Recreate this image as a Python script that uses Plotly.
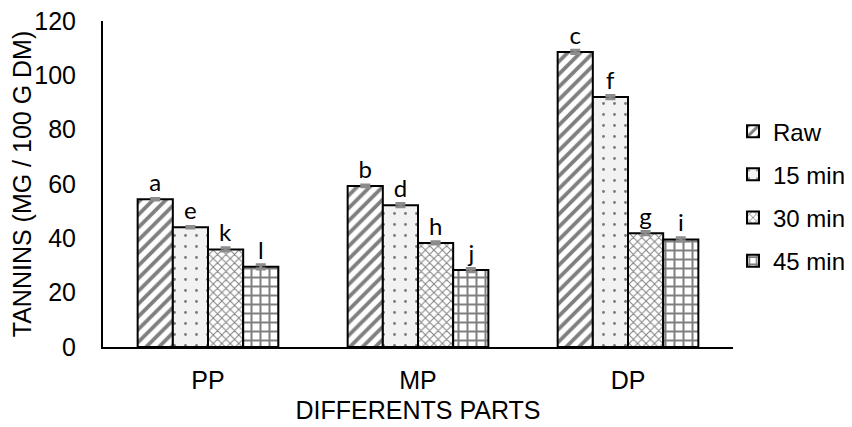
import plotly.graph_objects as go

categories = ["PP", "MP", "DP"]
series_names = ["Raw", "15 min", "30 min", "45 min"]
raw = [54.4, 59.3, 108.6]
min15 = [44.1, 52.2, 92.0]
min30 = [35.9, 38.3, 41.9]
min45 = [29.5, 28.3, 39.6]
err_raw = [0.3, 0.3, 0.6]
err15 = [0.3, 0.6, 0.6]
err30 = [0.6, 0.4, 0.6]
err45 = [0.8, 0.6, 0.6]
letters_raw = ["a", "b", "c"]
letters15 = ["e", "d", "f"]
letters30 = ["k", "h", "g"]
letters45 = ["l", "j", "i"]

values = [raw, min15, min30, min45]
errors = [err_raw, err15, err30, err45]
letters = [letters_raw, letters15, letters30, letters45]
patterns = [
    dict(shape="/", fgcolor="black", bgcolor="white", size=9, solidity=0.42),
    dict(shape=".", fgcolor="black", bgcolor="#f2f2f2", size=11, solidity=0.05),
    dict(shape="x", fgcolor="black", bgcolor="white", size=6, solidity=0.3),
    dict(shape="+", fgcolor="black", bgcolor="white", size=9, solidity=0.4),
]

FONT = "Liberation Sans, Arial, sans-serif"

fig = go.Figure()
for i, name in enumerate(series_names):
    fig.add_trace(go.Bar(
        name=name,
        x=categories,
        y=values[i],
        legendgroup=name,
        marker=dict(color="white", line=dict(color="black", width=2), pattern=patterns[i]),
        error_y=dict(type="data", array=errors[i], color="#8c8c8c", thickness=3, width=5),
        text=letters[i],
        textposition="outside",
        textfont=dict(family="Lato, sans-serif", size=24, color="black"),
        cliponaxis=False,
    ))

fig.update_layout(
    width=852, height=427,
    barmode="group", bargap=0.33, bargroupgap=0,
    plot_bgcolor="white", paper_bgcolor="white",
    margin=dict(l=95, r=127, t=13, b=88, autoexpand=False),
    font=dict(family=FONT, size=25, color="black"),
    legend=dict(x=1.0, xanchor="left", y=0.463, yanchor="middle",
                font=dict(size=24), tracegroupgap=9,
                traceorder="grouped", bgcolor="rgba(0,0,0,0)"),
)
fig.update_xaxes(showline=True, linecolor="black", linewidth=2, ticks="",
                 showgrid=False, tickfont=dict(size=25), ticklabelstandoff=10,
                 title=dict(text="DIFFERENTS PARTS", font=dict(size=25), standoff=8))
fig.update_yaxes(range=[0, 120], dtick=20, showline=True, linecolor="black", linewidth=2,
                 ticks="", showgrid=False, zeroline=False, tickfont=dict(size=25),
                 ticklabelstandoff=20, ticklabeloverflow="allow",
                 title=dict(text="TANNINS (MG / 100 G DM)", font=dict(size=25), standoff=3))

fig.write_html("out.html")
